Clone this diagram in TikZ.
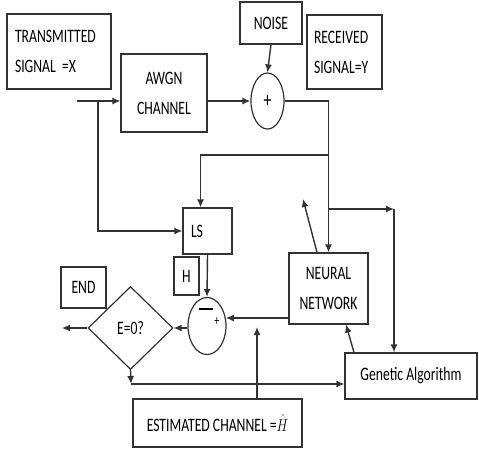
\documentclass[tikz,border=0pt]{standalone}
\usepackage{fontspec}
\newfontfamily\diagfont[FakeStretch=0.72]{Carlito}
\usetikzlibrary{arrows.meta,shapes.geometric}
\begin{document}
\begin{tikzpicture}[x=1pt,y=-1pt,
    every node/.style={font=\diagfont\fontsize{19}{30}\selectfont, text=black},
    blk/.style={draw=black!80, line width=1.2pt, inner sep=0pt},
    sumnode/.style={draw=black!80, line width=1.2pt, ellipse, inner sep=0pt},
    arr/.style={draw=black!80, line width=1.4pt, -{Latex[length=8pt,width=7pt]}}]
    \useasboundingbox (0,0) rectangle (479,463);

    % Blocks
    \node[blk, minimum width=104pt, minimum height=75pt, text width=88pt, align=left] (tx) at (59,51.5) {TRANSMITTED\\SIGNAL =X};
    \node[blk, minimum width=86pt, minimum height=78pt, align=center] (awgn) at (164,93) {AWGN\\CHANNEL};
    \node[blk, minimum width=62pt, minimum height=42pt] (noise) at (271,23) {NOISE};
    \node[blk, minimum width=75pt, minimum height=74pt, text width=61pt, align=left] (rx) at (344.5,52) {RECEIVED\\SIGNAL=Y};
    \node[sumnode, minimum width=33pt, minimum height=56pt, font=\diagfont\fontsize{22}{24}\selectfont] (plus) at (267.5,101) {+};
    \node[blk, minimum width=49pt, minimum height=46pt, text width=33pt, align=left] (ls) at (207.5,231) {LS};
    \node[blk, minimum width=25pt, minimum height=38pt] (hbox) at (186.5,276) {H};
    \node[sumnode, minimum width=38pt, minimum height=57pt] (minus) at (207,326) {};
    \node[inner sep=0pt] (minussign) at (206,309) {\rule{14pt}{1.4pt}};
    \node[font=\diagfont\fontsize{14}{15}\selectfont] (plussign) at (217,322) {+};
    \node[blk, minimum width=79pt, minimum height=71pt, align=center] (nn) at (328.5,288.5) {NEURAL\\NETWORK};
    \node[blk, minimum width=132pt, minimum height=46pt] (ga) at (411,376) {Genetic Algorithm};
    \node[blk, minimum width=169pt, minimum height=48pt] (est) at (217.5,423) {ESTIMATED CHANNEL =\scalebox{0.75}[1]{$\hat{H}$}};
    \node[blk, diamond, minimum width=85pt, minimum height=83pt] (dia) at (130.5,328) {E=0?};
    \node[blk, minimum width=45pt, minimum height=41pt] (endb) at (83.5,287.5) {END};

    % Junction points
    \coordinate (in) at (77,101);
    \coordinate (s1) at (98,101);
    \coordinate (c1) at (329,155);
    \coordinate (c2) at (329,209);
    \coordinate (c3) at (394,209);
    \coordinate (c4) at (131,384);
    \coordinate (nnfree) at (303,199);
    \coordinate (estup) at (257,327);
    \coordinate (out) at (62,328);

    % Forward path
    \draw[arr] (in) -- (in -| awgn.west);
    \draw[arr] (s1) |- (ls.west);
    \draw[arr] (awgn.east |- plus.west) -- (plus.west);
    \draw[arr] (noise.south) -- (plus.north);
    \draw[arr] (plus.east) -| (nn.north);
    \draw[arr] (c1) -| ([xshift=-7pt]ls.north);
    \draw[arr] (c2) -- (c3);
    \draw[arr] (c3) -- (c3 |- ga.north);
    \draw[arr] ([xshift=-11.5pt]nn.north) -- (nnfree);

    % Error loop
    \draw[arr] (ls.south) -- (minus.north);
    \draw[arr] (minus.23 -| nn.west) -- (minus.23);
    \draw[arr] (estup |- est.north) -- (estup);
    \draw[arr] (dia.east -| minus.west) -- (dia.east);
    \draw[arr] (dia.west) -- (out);
    \draw[arr] (dia.south) -- (c4);
    \draw[arr] (c4) -- (c4 -| ga.west);
    \draw[arr] ([xshift=-57pt]ga.north) -- ([xshift=17.5pt]nn.south);
\end{tikzpicture}
\end{document}
